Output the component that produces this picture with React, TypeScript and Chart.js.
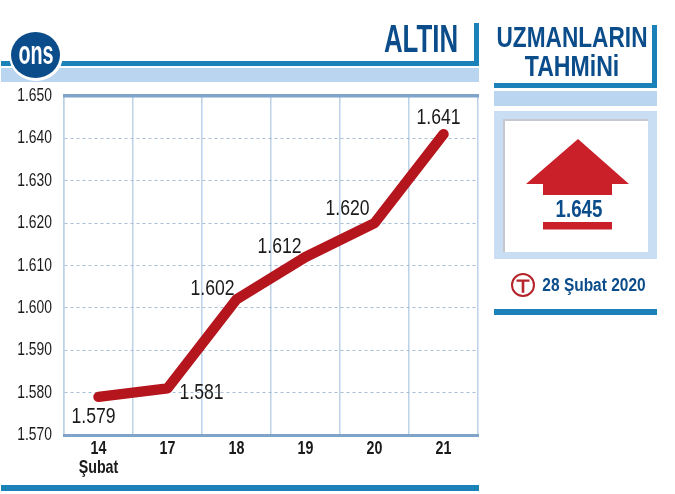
import React, { useEffect, useRef } from "react";
import { Chart, registerables } from "chart.js";

Chart.register(...registerables);

const categories: (string | string[])[] = [["14", "Şubat"], "17", "18", "19", "20", "21"];
const gold = [1579, 1581, 1602, 1612, 1620, 1641];
const valueLabels = ["1.579", "1.581", "1.602", "1.612", "1.620", "1.641"];
const yTicks: Record<number, string> = {
  1570: "1.570", 1580: "1.580", 1590: "1.590", 1600: "1.600", 1610: "1.610",
  1620: "1.620", 1630: "1.630", 1640: "1.640", 1650: "1.650",
};
const labelOffsets = [[-5, 20], [34, 5], [-24, -10], [-26, -10], [-27, -14], [-5, -16]];

const FONT = '"Liberation Sans", sans-serif';
const NAVY = "#0b4c8a";
const BLUE = "#1a82b8";
const PALE = "#b9d5ef";
const RED = "#c9202a";

const box = (left: number, top: number, width: number, height: number, background: string, extra: React.CSSProperties = {}): React.CSSProperties => ({
  position: "absolute", left, top, width, height, background, ...extra,
});

// Condensed text: no narrow family is installed, so the type is squeezed horizontally.
const squeezed = (cx: number, baseline: number, size: number, sx: number, color: string, bold = true): React.CSSProperties => ({
  position: "absolute", left: cx - 150, top: baseline - 0.8465 * size, width: 300, textAlign: "center",
  font: `${bold ? "bold " : ""}${size}px ${FONT}`, lineHeight: 1, color, whiteSpace: "nowrap",
  transform: `scaleX(${sx})`, transformOrigin: "center",
});

let squeeze = 0.75;

const overlay = {
  id: "overlay",
  beforeDraw(chart: any) {
    const ctx = chart.ctx;
    if (!ctx.__wrapped) {
      const orig = ctx.fillText.bind(ctx);
      ctx.fillText = (t: string, x: number, y: number) => {
        ctx.save();
        ctx.translate(x, y);
        ctx.scale(squeeze, 1);
        orig(t, 0, 0);
        ctx.restore();
      };
      ctx.__wrapped = true;
    }
  },
  beforeDatasetsDraw(chart: any) {
    const { ctx, chartArea: a } = chart;
    ctx.save();
    ctx.fillStyle = "#7fa3c9";
    ctx.fillRect(a.left - 1, a.top - 2, a.right - a.left + 2, 3.5);
    ctx.fillRect(a.left - 1, a.bottom - 1, a.right - a.left + 2, 3);
    ctx.restore();
  },
  afterDatasetsDraw(chart: any) {
    const { ctx } = chart;
    const pts = chart.getDatasetMeta(0).data;
    ctx.save();
    squeeze = 0.8;
    ctx.font = `22px ${FONT}`;
    ctx.fillStyle = "#1a1a1a";
    ctx.textAlign = "center";
    ctx.textBaseline = "middle";
    valueLabels.forEach((t, i) => {
      ctx.fillText(t, pts[i].x + labelOffsets[i][0], pts[i].y + labelOffsets[i][1]);
    });
    squeeze = 0.75;
    ctx.restore();
  },
};

export default function App() {
  const ref = useRef<HTMLCanvasElement>(null);
  useEffect(() => {
    const chart = new Chart(ref.current!, {
      type: "line",
      data: {
        labels: categories as any,
        datasets: [{
          data: gold,
          borderColor: "#b5151c",
          borderWidth: 10.5,
          borderCapStyle: "round",
          borderJoinStyle: "round",
          pointRadius: 0,
          tension: 0,
          fill: false,
        }],
      },
      options: {
        animation: false,
        responsive: false,
        layout: { padding: { left: 0, right: 197, top: 96, bottom: 0 } },
        plugins: { legend: { display: false }, tooltip: { enabled: false } },
        scales: {
          x: {
            offset: true,
            grid: { color: "#bcd2e6", lineWidth: 1.5, offset: true, drawTicks: false },
            border: { color: "#bcd2e6", width: 1.5 },
            ticks: { color: "#1a1a1a", font: { family: FONT, size: 19, weight: "bold", lineHeight: 1 }, padding: 4, maxRotation: 0 },
            afterFit(s: any) { s.height = 59; },
          },
          y: {
            min: 1570,
            max: 1650,
            grid: {
              color: (c: any) => (c.tick.value === 1570 || c.tick.value === 1650 ? "rgba(0,0,0,0)" : "#a9bfd6"),
              lineWidth: 1,
              drawTicks: false,
            },
            border: { dash: [3, 3], color: "#bcd2e6", width: 1.5 },
            ticks: {
              stepSize: 10,
              color: "#1a1a1a",
              font: { family: FONT, size: 18.5 },
              padding: 12,
              callback: (v: any) => yTicks[v as number],
            },
            afterFit(s: any) { s.width = 64; },
          },
        },
      },
      plugins: [overlay],
    } as any);
    return () => chart.destroy();
  }, []);

  return (
    <div style={{ position: "absolute", left: 0, top: 0, width: 675, height: 494, background: "#fff", overflow: "hidden" }}>
      <canvas ref={ref} width={675} height={494} style={{ position: "absolute", left: 0, top: 0, width: 675, height: 494 }} />

      <div style={box(1, 61, 478, 4.5, BLUE)} />
      <div style={box(473.5, 23, 5.5, 42, BLUE)} />
      <div style={box(1, 68, 478, 14, PALE)} />
      <div style={box(8.5, 29.5, 54, 51, "#fff", { borderRadius: "50%" })} />
      <div style={box(11, 32, 49, 46, NAVY, { borderRadius: "50%" })} />
      <div style={squeezed(35.5, 64, 33, 0.6, "#fff")}>ons</div>
      <div style={squeezed(421, 52, 38, 0.68, NAVY)}>ALTIN</div>

      <div style={box(494, 83, 163, 5, BLUE)} />
      <div style={box(652, 25, 5, 63, BLUE)} />
      <div style={box(494, 91, 163, 15, PALE)} />
      <div style={squeezed(571.5, 47, 30, 0.755, NAVY)}>UZMANLARIN</div>
      <div style={squeezed(572, 76, 30, 0.77, NAVY)}>TAHMiNi</div>

      <div style={box(494, 111, 163, 148, "#c9def2")} />
      <div style={box(503, 119, 145, 133, "#c4c9cf")} />
      <div style={box(505, 121, 143, 131, "#fff")} />
      <svg width={675} height={494} style={{ position: "absolute", left: 0, top: 0 }}>
        <polygon points="578,139 629,184 612,184 612,195 543,195 543,184 526,184" fill={RED} />
        <rect x={543} y={222} width={69} height={7.5} fill={RED} />
        <circle cx={523} cy={285} r={11} fill="none" stroke="#b5232b" strokeWidth={2} />
        <path d="M516.5 279.5h13v2.2h-5.2v11h-2.6v-11h-5.2z" fill="#b5232b" />
      </svg>
      <div style={squeezed(578.5, 217, 24, 0.78, NAVY)}>1.645</div>
      <div style={squeezed(593.5, 291, 18, 0.86, NAVY)}>28 Şubat 2020</div>
      <div style={box(494, 309, 163, 5.5, BLUE)} />

      <div style={box(1, 485, 478, 5.5, BLUE)} />
    </div>
  );
}
